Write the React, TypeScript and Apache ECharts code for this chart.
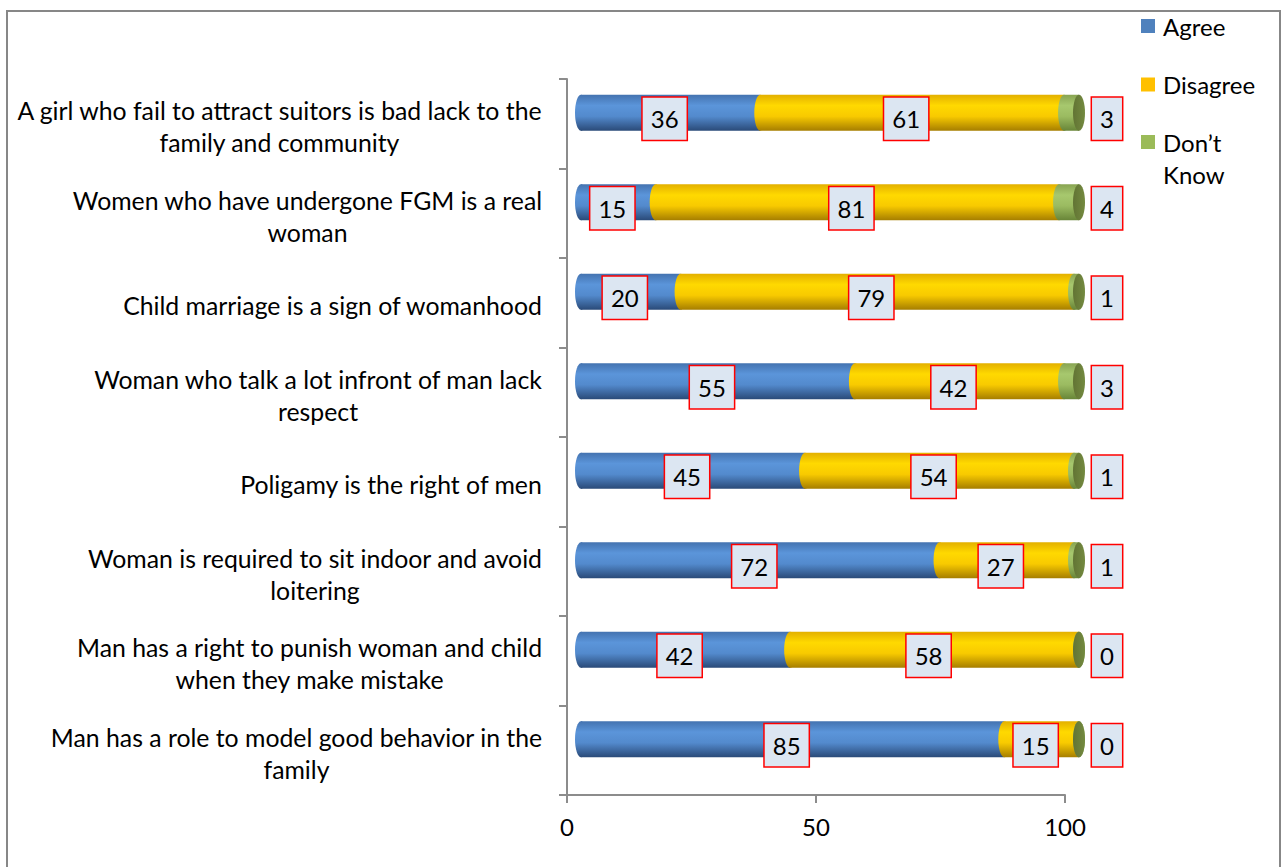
import React, { useEffect, useRef } from "react";
import * as echarts from "echarts";

const categories = [
  "A girl who fail to attract suitors is bad lack to the\nfamily and community",
  "Women who have undergone FGM is a real\nwoman",
  "Child marriage is a sign of womanhood",
  "Woman who talk a lot infront of man lack\nrespect",
  "Poligamy is the right of men",
  "Woman is required to sit indoor and avoid\nloitering",
  "Man has a right to punish woman and child\nwhen they make mistake",
  "Man has a role to model good behavior in the\nfamily",
];
const agree = [36, 15, 20, 55, 45, 72, 42, 85];
const disagree = [61, 81, 79, 42, 54, 27, 58, 15];
const dontKnow = [3, 4, 1, 3, 1, 1, 0, 0];
const seriesNames = ["Agree", "Disagree", "Don’t Know"];
const xMin = 0;
const xMax = 100;
const xInterval = 50;

const FONT = "Lato";
const FS = 24.8;
const LFS = 24;
const BAR_H = 36;
const RX = 6;
const DX = 14;
const DY = -11;
const LBL_DX = 8;
const LBL_DY = -5;

const legendColors = ["#4F81BD", "#FFC000", "#9BBB59"];
const gradStops = [
  [
    { offset: 0, color: "#4473B0" },
    { offset: 0.3, color: "#5B95DA" },
    { offset: 0.6, color: "#538ACD" },
    { offset: 1, color: "#2A4A78" },
  ],
  [
    { offset: 0, color: "#E3B000" },
    { offset: 0.3, color: "#FFD900" },
    { offset: 0.6, color: "#F8CA00" },
    { offset: 1, color: "#A67E00" },
  ],
  [
    { offset: 0, color: "#88A452" },
    { offset: 0.3, color: "#A7C86E" },
    { offset: 0.6, color: "#9BBB61" },
    { offset: 1, color: "#688538" },
  ],
];

function buildSeriesData(k: number) {
  return categories.map((_, i) => {
    const a = agree[i];
    const d = disagree[i];
    const n = dontKnow[i];
    if (k === 0) return [0, a, i, a];
    if (k === 1) return [a, a + d, i, d];
    return [a + d, a + d + n, i, n];
  });
}

function makeRender(k: number) {
  return (params: any, api: any) => {
    const start = api.value(0);
    const end = api.value(1);
    const cat = api.value(2);
    const val = api.value(3);
    const a = api.coord([start, cat]);
    const b = api.coord([end, cat]);
    const x0 = a[0] + DX;
    const x1 = b[0] + DX;
    const yc = a[1] + DY;
    const grad = new echarts.graphic.LinearGradient(0, 0, 0, 1, gradStops[k]);
    const children: any[] = [
      {
        type: "ellipse",
        shape: { cx: x0, cy: yc, rx: RX, ry: BAR_H / 2 },
        style: { fill: grad },
      },
      {
        type: "rect",
        shape: { x: x0, y: yc - BAR_H / 2, width: Math.max(0, x1 - x0), height: BAR_H },
        style: { fill: grad },
      },
    ];
    if (k === 2) {
      children.push({
        type: "ellipse",
        shape: { cx: x1, cy: yc, rx: RX, ry: BAR_H / 2 },
        style: {
          fill: new echarts.graphic.LinearGradient(0, 0, 1, 0, [
            { offset: 0, color: "#627434" },
            { offset: 1, color: "#748A40" },
          ]),
        },
      });
    }
    const lx = k === 2 ? b[0] + 42 : (a[0] + b[0]) / 2 + LBL_DX;
    children.push({
      type: "text",
      x: lx,
      y: a[1] + LBL_DY,
      z2: 10,
      style: {
        text: String(val),
        fill: "#000",
        textFill: "#000",
        fontSize: LFS,
        fontFamily: FONT,
        align: "center",
        textAlign: "center",
        verticalAlign: "middle",
        textVerticalAlign: "middle",
        lineHeight: 28,
        backgroundColor: "#DCE6F2",
        textBackgroundColor: "#DCE6F2",
        borderColor: "#FF0000",
        textBorderColor: "#FF0000",
        borderWidth: 1.5,
        textBorderWidth: 1.5,
        padding: [7, 8, 7, 8],
        textPadding: [7, 8, 7, 8],
      },
    });
    return { type: "group", children };
  };
}

export default function App() {
  const ref = useRef<HTMLDivElement>(null);
  useEffect(() => {
    const chart = echarts.init(ref.current!, null, { renderer: "svg" });
    const ctx = document.createElement("canvas").getContext("2d")!;
    ctx.font = `${FS}px ${FONT}`;
    const rich: any = {};
    categories.forEach((c, i) => {
      const w = Math.max(...c.split("\n").map((l) => ctx.measureText(l).width));
      rich["c" + i] = {
        width: Math.ceil(w) + 1,
        align: "center",
        fontSize: FS,
        fontFamily: FONT,
        lineHeight: 32,
        color: "#000",
      };
    });

    const legendBase = {
      orient: "vertical",
      left: 1141,
      padding: 0,
      itemWidth: 14,
      itemHeight: 14,
      icon: "rect",
      selectedMode: false,
    };

    const option: any = {
      animation: false,
      backgroundColor: "#FFFFFF",
      textStyle: { fontFamily: FONT },
      graphic: [
        {
          type: "rect",
          shape: { x: 7, y: 11, width: 1273, height: 900 },
          style: { fill: "none", stroke: "#878787", lineWidth: 2 },
          silent: true,
        },
      ],
      legend: [
        {
          ...legendBase,
          top: 13,
          data: [{ name: seriesNames[0] }],
          textStyle: { fontSize: LFS, fontFamily: FONT, color: "#000", lineHeight: 26, padding: [0, 0, 0, 3] },
        },
        {
          ...legendBase,
          top: 71.5,
          data: [{ name: seriesNames[1] }],
          textStyle: { fontSize: LFS, fontFamily: FONT, color: "#000", lineHeight: 26, padding: [0, 0, 0, 3] },
        },
        {
          ...legendBase,
          top: 94,
          data: [{ name: seriesNames[2] }],
          formatter: () => "\nDon’t\nKnow",
          textStyle: { fontSize: LFS, fontFamily: FONT, color: "#000", lineHeight: 32, padding: [0, 0, 0, 3] },
        },
      ],
      grid: { left: 567, top: 79, width: 498, height: 716, containLabel: false },
      xAxis: {
        type: "value",
        min: xMin,
        max: xMax,
        interval: xInterval,
        axisLine: { show: true, lineStyle: { color: "#8C8C8C", width: 2 } },
        axisTick: { show: true, length: 8, lineStyle: { color: "#8C8C8C", width: 2 } },
        splitLine: { show: false },
        axisLabel: { fontSize: 24, fontFamily: FONT, color: "#000", margin: 19 },
      },
      yAxis: {
        type: "category",
        inverse: true,
        data: categories,
        axisLine: { show: true, lineStyle: { color: "#8C8C8C", width: 2 } },
        axisTick: { show: true, length: 8, lineStyle: { color: "#8C8C8C", width: 2 } },
        splitLine: { show: false },
        axisLabel: {
          margin: 24,
          color: "#000",
          fontSize: FS,
          fontFamily: FONT,
          lineHeight: 32,
          padding: [6, 0, 0, 0],
          formatter: (value: string, index: number) =>
            value
              .split("\n")
              .map((l) => `{c${index}|${l}}`)
              .join("\n"),
          rich,
        },
      },
      series: [0, 1, 2].map((k) => ({
        type: "custom",
        name: seriesNames[k],
        itemStyle: { color: legendColors[k] },
        clip: false,
        encode: { x: [0, 1], y: 2 },
        data: buildSeriesData(k),
        renderItem: makeRender(k),
      })),
    };
    chart.setOption(option);
    return () => chart.dispose();
  }, []);
  return (
    <div
      ref={ref}
      style={{ position: "fixed", left: 0, top: 0, width: 1281, height: 867, background: "#fff" }}
    />
  );
}
